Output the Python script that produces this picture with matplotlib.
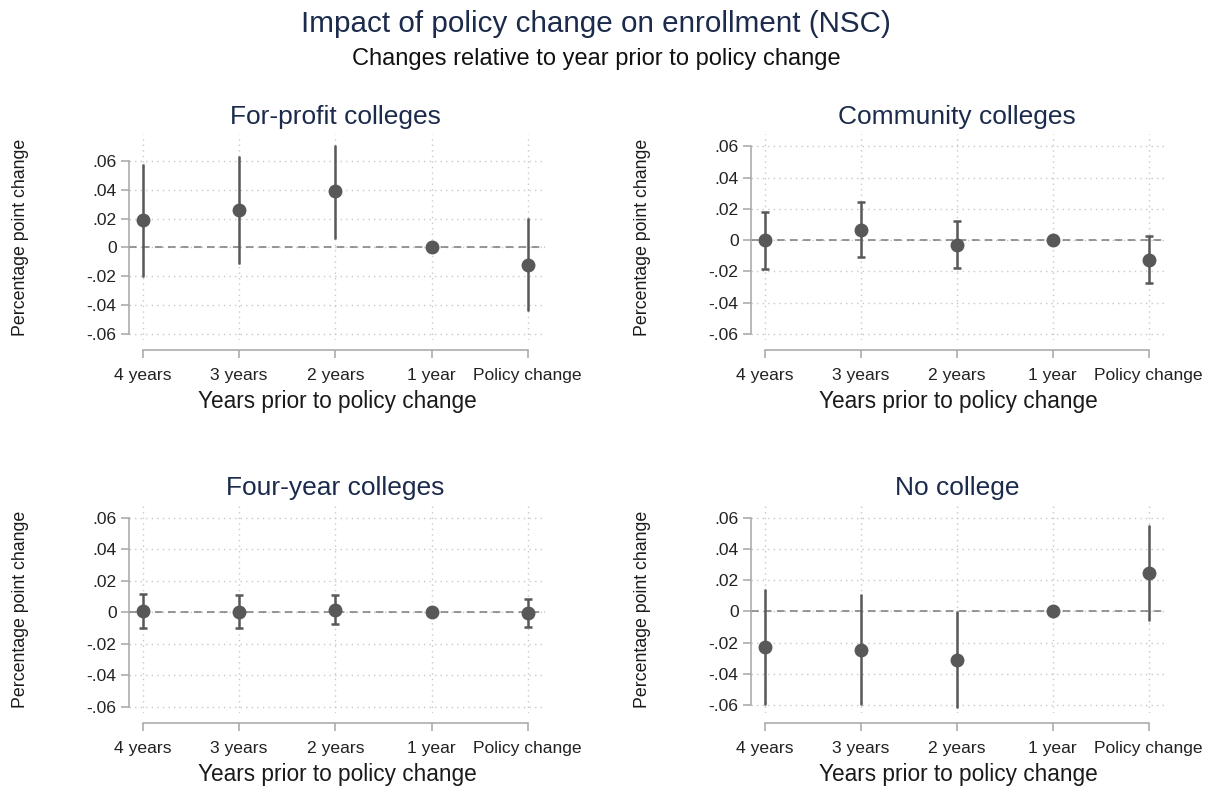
import numpy as np
import matplotlib
matplotlib.use("Agg")
import matplotlib.pyplot as plt
from matplotlib.transforms import blended_transform_factory

plt.rcParams['font.family'] = ['Liberation Sans', 'DejaVu Sans']

# ---------------- data ----------------
categories = ["4 years", "3 years", "2 years", "1 year", "Policy change"]
panel_titles = ["For-profit colleges", "Community colleges", "Four-year colleges", "No college"]

forprofit_est = [0.019, 0.026, 0.039, 0.0, -0.012]
forprofit_lo = [-0.020, -0.0105, 0.0065, 0.0, -0.0435]
forprofit_hi = [0.057, 0.0625, 0.0705, 0.0, 0.020]

community_est = [0.0, 0.0068, -0.003, 0.0, -0.0125]
community_lo = [-0.0183, -0.0106, -0.018, 0.0, -0.0274]
community_hi = [0.0183, 0.0242, 0.0123, 0.0, 0.0028]

fouryear_est = [0.0008, 0.0, 0.0015, 0.0, -0.0008]
fouryear_lo = [-0.0102, -0.010, -0.0076, 0.0, -0.0096]
fouryear_hi = [0.0115, 0.0106, 0.0106, 0.0, 0.0083]

nocollege_est = [-0.0229, -0.0251, -0.0311, 0.0, 0.0242]
nocollege_lo = [-0.0594, -0.0594, -0.0611, 0.0, -0.0058]
nocollege_hi = [0.0139, 0.0101, -0.0004, 0.0, 0.0546]

yticks = [-0.06, -0.04, -0.02, 0.0, 0.02, 0.04, 0.06]
ytick_labels = ["-.06", "-.04", "-.02", "0", ".02", ".04", ".06"]

title = "Impact of policy change on enrollment (NSC)"
subtitle = "Changes relative to year prior to policy change"
xlabel = "Years prior to policy change"
ylabel = "Percentage point change"

# ---------------- style ----------------
W, H = 1215, 786
fig = plt.figure(figsize=(W / 100, H / 100), dpi=100)
fig.patch.set_facecolor("white")

NAVY = "#1c2b4c"
MARK = "#585858"
AXC = "#a6a6a6"

panels = [
    (forprofit_est, forprofit_lo, forprofit_hi),
    (community_est, community_lo, community_hi),
    (fouryear_est, fouryear_lo, fouryear_hi),
    (nocollege_est, nocollege_lo, nocollege_hi),
]
# pixel boxes: left, right, top, bottom
boxes = [(129, 545, 134, 340), (751, 1166, 134, 340),
         (129, 545, 505, 713), (751, 1166, 505, 713)]
ylabel_x = [29, 651, 29, 651]
capsizes = [0.8, 3, 3, 0.8]

for i, ((est, lo, hi), (l, r, t, b)) in enumerate(zip(panels, boxes)):
    ax = fig.add_axes([l / W, 1 - b / H, (r - l) / W, (b - t) / H])
    x = np.arange(len(categories))
    est = np.array(est); lo = np.array(lo); hi = np.array(hi)
    ymin = min(-0.06, lo.min()) - 0.004
    ymax = max(0.06, hi.max()) + 0.008
    ax.set_xlim(-0.145, 4.18)
    ax.set_ylim(ymin, ymax)

    # grid
    for yt in yticks:
        ax.axhline(yt, color="#c8c8c8", lw=1.0, ls=(0, (1, 3)), zorder=0)
    for xt in x:
        ax.axvline(xt, color="#c8c8c8", lw=1.0, ls=(0, (1, 3)), zorder=0)
    ax.axhline(0, color="#7a7a7a", lw=1.1, ls=(0, (5, 3.5)), zorder=1)

    ax.errorbar(x, est, yerr=[est - lo, hi - est], fmt="o", color=MARK,
                ecolor=MARK, elinewidth=1.8, capsize=capsizes[i], capthick=1.8,
                markersize=9, zorder=3)

    for s in ["top", "right"]:
        ax.spines[s].set_visible(False)
    ax.spines["left"].set_color(AXC)
    ax.spines["bottom"].set_color(AXC)
    ax.spines["left"].set_linewidth(1.1)
    ax.spines["bottom"].set_linewidth(1.1)
    ax.spines["left"].set_bounds(-0.06, 0.06)
    ax.spines["bottom"].set_bounds(0, 4)
    ax.spines["bottom"].set_position(("outward", 7))

    ax.set_yticks(yticks)
    ax.set_yticklabels(ytick_labels)
    ax.set_xticks(x)
    ax.set_xticklabels(categories)
    ax.tick_params(axis="both", colors=AXC, length=6, width=1.1, labelcolor="#222222",
                   labelsize=12.6)
    ax.tick_params(axis="x", pad=7)
    ax.tick_params(axis="y", pad=3)

    ax.set_xlabel(xlabel, fontsize=16.3, color="#1a1a1a", labelpad=5)
    ax.set_ylabel(ylabel, fontsize=12.8, color="#1a1a1a")
    ax.yaxis.set_label_coords((ylabel_x[i] - l) / (r - l), 0.5)

    trans = blended_transform_factory(ax.transData, fig.transFigure)
    ty = 1 - (t - 17) / H
    ax.text(2, ty, panel_titles[i], transform=trans, ha="center", va="center",
            fontsize=19, color=NAVY)

fig.text(596 / W, 1 - 24 / H, title, ha="center", va="center", fontsize=21.3, color=NAVY)
fig.text(596 / W, 1 - 59 / H, subtitle, ha="center", va="center", fontsize=17, color="#111111")

fig.savefig("out.png", dpi=100, facecolor="white")
